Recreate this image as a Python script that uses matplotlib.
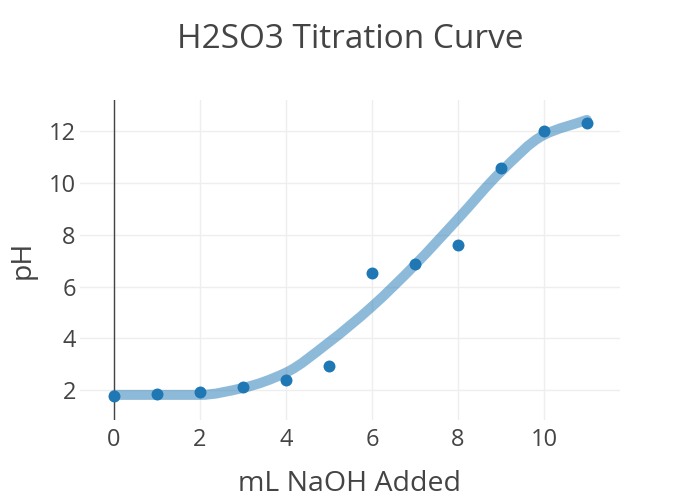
import numpy as np
import matplotlib
matplotlib.use("Agg")
import matplotlib.pyplot as plt
from matplotlib.path import Path
from matplotlib.patches import PathPatch

plt.rcParams['font.family'] = ['Open Sans', 'DejaVu Sans']

ml_naoh = [0, 1, 2, 3, 4, 5, 6, 7, 8, 9, 10, 11]
ph_measured = [1.78, 1.85, 1.93, 2.14, 2.40, 2.93, 6.52, 6.88, 7.61, 10.59, 12.02, 12.31]
ph_fit = [1.82, 1.82, 1.82, 2.09, 2.68, 3.85, 5.23, 6.84, 8.62, 10.44, 11.86, 12.44]

fig = plt.figure(figsize=(7, 5), dpi=100)
ax = fig.add_axes([80/700, 1-420/500, 540/700, 320/500])

# smooth monotone (Fritsch-Carlson) cubic Bezier path through fitted points
xs = np.array(ml_naoh, float)
ys = np.array(ph_fit, float)
n = len(xs)
h = np.diff(xs)
d = np.diff(ys) / h
m = np.zeros(n)
m[0], m[-1] = d[0], d[-1]
for i in range(1, n-1):
    if d[i-1] * d[i] <= 0:
        m[i] = 0
    else:
        w1 = 2*h[i] + h[i-1]
        w2 = h[i] + 2*h[i-1]
        m[i] = (w1 + w2) / (w1/d[i-1] + w2/d[i])
verts = [(xs[0], ys[0])]
codes = [Path.MOVETO]
for i in range(n-1):
    c1 = (xs[i] + h[i]/3, ys[i] + m[i]*h[i]/3)
    c2 = (xs[i+1] - h[i]/3, ys[i+1] - m[i+1]*h[i]/3)
    verts += [c1, c2, (xs[i+1], ys[i+1])]
    codes += [Path.CURVE4]*3
patch = PathPatch(Path(verts, codes), facecolor='none', edgecolor=(31/255, 119/255, 180/255, 0.5),
                  lw=7.2, capstyle='round', joinstyle='round', zorder=3)
ax.add_patch(patch)

ax.plot(ml_naoh, ph_measured, 'o', color='#1f77b4', markersize=8.6, markeredgewidth=0, zorder=4)

ax.set_xlim(-0.79, 11.77)
ax.set_ylim(0.85, 13.21)
ax.set_xticks([0, 2, 4, 6, 8, 10])
ax.set_yticks([2, 4, 6, 8, 10, 12])
ax.grid(True, color='#eeeeee', lw=1)
ax.set_axisbelow(True)
for s in ax.spines.values():
    s.set_visible(False)
ax.axvline(0, color='#444444', lw=1, zorder=2)
ax.tick_params(axis='x', length=0, labelsize=17, colors='#444444', pad=6)
ax.tick_params(axis='y', length=0, labelsize=17, colors='#444444', pad=3)
ax.set_xlabel('mL NaOH Added', fontsize=20.5, color='#444444', labelpad=13)
ax.set_ylabel('pH', fontsize=20.5, color='#444444', labelpad=9)
fig.suptitle('H2SO3 Titration Curve', fontsize=24, color='#444444', y=1-39/500, va='center')

fig.savefig('out.png', dpi=100)
